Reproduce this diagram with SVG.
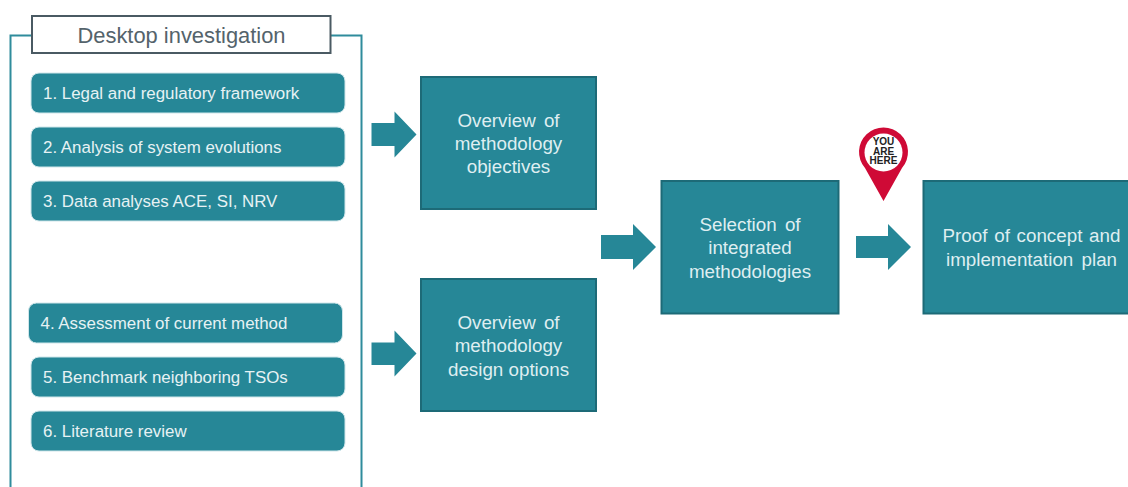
<svg xmlns="http://www.w3.org/2000/svg" width="1128" height="487" viewBox="0 0 1128 487">
<defs><style>
text{font-family:"Liberation Sans",Arial,sans-serif}
.item rect{fill:#268797;stroke:#cfe6ea;stroke-width:1}
.item text{fill:#e6f2f4;font-size:16.9px}
.box rect{fill:#268797;stroke:#1d6a77;stroke-width:2}
.box text{fill:#dfeef1;font-size:18.8px;text-anchor:middle}
.gap{word-spacing:3px}
.arrow{fill:#268797}
</style></defs>
<rect width="1128" height="487" fill="#fff"/>
<path id="frame" d="M10.500 487V35.500H32M331 35.500H361.500V487" fill="none" stroke="#2f8c9c" stroke-width="2"/>
<g id="title"><rect x="32" y="16" width="298.500" height="37" fill="#fff" stroke="#4a5a63" stroke-width="2"/><text x="181.500" y="42.500" font-size="21.900" fill="#54636b" text-anchor="middle">Desktop investigation</text></g>
<g id="item1" class="item"><rect x="31" y="73" width="314" height="40" rx="8"/><text x="43" y="99">1. Legal and regulatory framework</text></g>
<g id="item2" class="item"><rect x="31" y="127" width="314" height="40" rx="8"/><text x="43" y="152.500">2. Analysis of system evolutions</text></g>
<g id="item3" class="item"><rect x="31" y="181" width="314" height="40" rx="8"/><text x="43" y="207">3. Data analyses ACE, SI, NRV</text></g>
<g id="item4" class="item"><rect x="28.500" y="303" width="314" height="40" rx="8"/><text x="40.500" y="329">4. Assessment of current method</text></g>
<g id="item5" class="item"><rect x="31" y="357" width="314" height="40" rx="8"/><text x="43" y="383">5. Benchmark neighboring TSOs</text></g>
<g id="item6" class="item"><rect x="31" y="411" width="314" height="40" rx="8"/><text x="43" y="437">6. Literature review</text></g>
<g id="connectors">
<path class="arrow" d="M371.500 123H394.500V111.500L416.500 134.500L394.500 157.500V146H371.500Z"/>
<path class="arrow" d="M371.500 342.500H394.500V330.500L416.500 353.500L394.500 376.500V365H371.500Z"/>
<path class="arrow" d="M601 235H633V224L656 247L633 270V259H601Z"/>
<path class="arrow" d="M856 236H888V224L911 247L888 270V258H856Z"/>
</g>
<g id="box1" class="box"><rect x="421" y="77" width="175" height="132"/><text class="gap" x="508.500" y="127">Overview of</text><text x="508.500" y="150">methodology</text><text x="508.500" y="173">objectives</text></g>
<g id="box2" class="box"><rect x="421" y="279" width="175" height="132"/><text class="gap" x="508.500" y="329">Overview of</text><text x="508.500" y="352">methodology</text><text x="508.500" y="375.500">design options</text></g>
<g id="box3" class="box"><rect x="661.500" y="181" width="177" height="132.500"/><text class="gap" x="750" y="230.500">Selection of</text><text x="750" y="254">integrated</text><text x="750" y="277.500">methodologies</text></g>
<g id="box4" class="box"><rect x="923.500" y="181" width="206" height="132.500"/><text x="1031.500" y="242" word-spacing="1.500">Proof of concept and</text><text class="gap" x="1031.500" y="265.500">implementation plan</text></g>
<g id="pin"><path d="M883.500 201L865 168A24.500 24.500 0 1 1 902 168Z" fill="#cf0a36"/><circle cx="883.500" cy="152.500" r="19" fill="#fff"/>
<g font-size="10" font-weight="700" fill="#222" text-anchor="middle"><text x="883.500" y="144.500">YOU</text><text x="883.500" y="154.500">ARE</text><text x="883.500" y="164">HERE</text></g></g>
</svg>
